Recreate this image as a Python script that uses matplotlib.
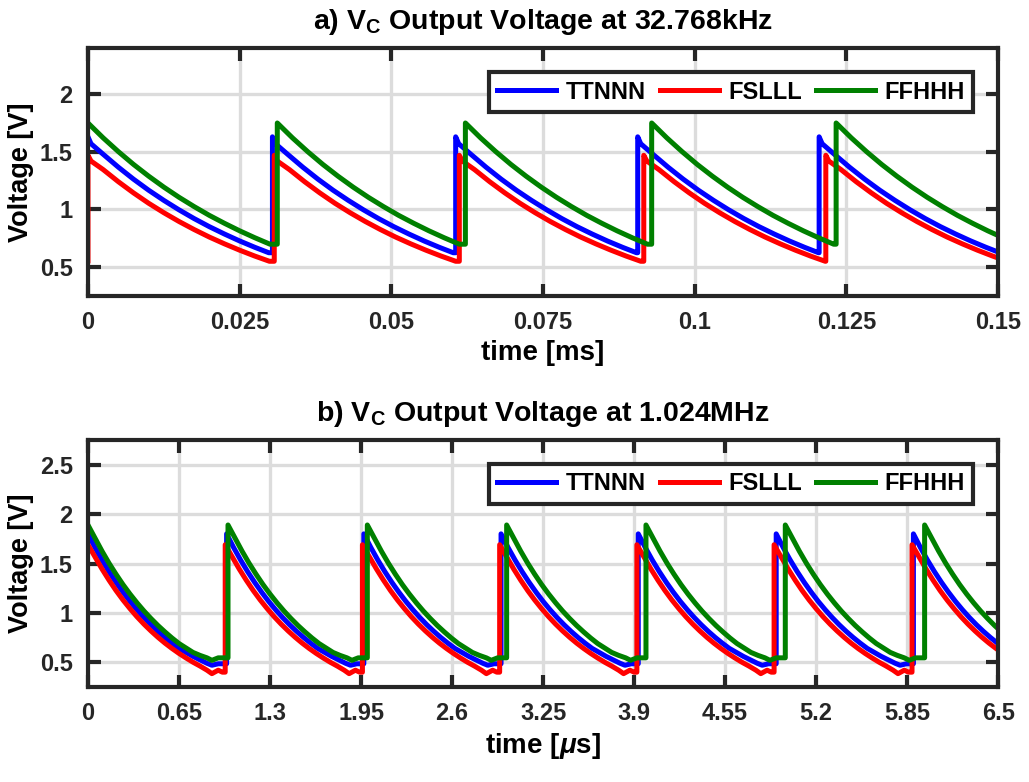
import matplotlib
matplotlib.use('Agg')
import matplotlib.pyplot as plt
import numpy as np

plt.rcParams['font.family'] = ['Liberation Sans', 'DejaVu Sans']
plt.rcParams['font.weight'] = 'bold'
plt.rcParams['mathtext.fontset'] = 'custom'
plt.rcParams['mathtext.rm'] = 'Liberation Sans:bold'
plt.rcParams['mathtext.bf'] = 'Liberation Sans:bold'
plt.rcParams['mathtext.it'] = 'Liberation Sans:italic:bold'

names = ['TTNNN', 'FSLLL', 'FFHHH']
colors = ['#0000ff', '#ff0000', '#008000']

# a) 32.768 kHz, time in ms -- jump times and one decay profile per corner
a_starts = [
    [0, 0.0304, 0.0606, 0.0906, 0.1205],
    [0, 0.0307, 0.0612, 0.0916, 0.1216],
    [0, 0.0312, 0.0622, 0.0929, 0.1233],
]
a_offs = [
    [0, 0.0005, 0.0025, 0.005, 0.0075, 0.010, 0.0125, 0.015, 0.0175, 0.020, 0.0225, 0.025, 0.0275, 0.0298],
    [0, 0.0005, 0.0025, 0.005, 0.0075, 0.010, 0.0125, 0.015, 0.0175, 0.020, 0.0225, 0.025, 0.0275, 0.0299],
    [0, 0.0025, 0.005, 0.0075, 0.010, 0.0125, 0.015, 0.0175, 0.020, 0.0225, 0.025, 0.0275, 0.030],
]
a_vals = [
    [1.63, 1.57, 1.479, 1.367, 1.263, 1.167, 1.079, 0.997, 0.921, 0.851, 0.787, 0.727, 0.672, 0.625],
    [1.47, 1.42, 1.346, 1.241, 1.144, 1.054, 0.972, 0.896, 0.826, 0.761, 0.702, 0.647, 0.596, 0.551],
    [1.75, 1.621, 1.502, 1.391, 1.289, 1.194, 1.106, 1.025, 0.949, 0.880, 0.815, 0.755, 0.699],
]
a_first = [None, 0.555, None]

# b) 1.024 MHz, time in us
b_starts = [
    [0, 0.99, 1.97, 2.95, 3.93, 4.915, 5.895],
    [0, 0.98, 1.96, 2.94, 3.92, 4.90, 5.885],
    [0, 1.0, 1.995, 2.99, 3.985, 4.98, 5.975],
]
b_offs = [0, 0.05, 0.1, 0.15, 0.2, 0.25, 0.3, 0.35, 0.4, 0.45, 0.5, 0.55, 0.6,
          0.65, 0.7, 0.75, 0.8, 0.85, 0.885, 0.93, 0.96]
b_vals = [
    [1.80, 1.662, 1.535, 1.418, 1.310, 1.210, 1.117, 1.032, 0.953, 0.880, 0.813,
     0.751, 0.694, 0.641, 0.60, 0.56, 0.525, 0.49, 0.47, 0.485, 0.485],
    [1.69, 1.567, 1.445, 1.332, 1.227, 1.131, 1.043, 0.961, 0.886, 0.817, 0.753,
     0.694, 0.640, 0.590, 0.544, 0.501, 0.462, 0.42, 0.385, 0.42, 0.40],
    [1.89, 1.758, 1.626, 1.504, 1.392, 1.287, 1.191, 1.102, 1.019, 0.943, 0.872,
     0.807, 0.746, 0.690, 0.645, 0.60, 0.57, 0.545, 0.52, 0.545, 0.545],
]


def build(starts, offs, vals, first=None):
    t, v = [], []
    if first is not None:
        t.append(starts[0]); v.append(first)
    for i, s in enumerate(starts):
        end = starts[i + 1] if i + 1 < len(starts) else np.inf
        for o, val in zip(offs, vals):
            if s + o < end:
                t.append(s + o); v.append(val)
        if i + 1 < len(starts):
            t.append(end); v.append(v[-1])
    return t, v


def style(ax, title, xlabel, xlim, ylim, xticks, yticks, xticklabels):
    ax.set_xlim(xlim)
    ax.set_ylim(ylim)
    ax.set_xticks(xticks)
    ax.set_xticklabels(xticklabels)
    ax.set_yticks(yticks)
    ax.set_yticklabels([('%g' % y) for y in yticks])
    ax.grid(True, color='#dcdcdc', linewidth=2.4)
    ax.set_axisbelow(True)
    for sp in ax.spines.values():
        sp.set_linewidth(3)
        sp.set_color('#262626')
    ax.tick_params(direction='in', length=9, width=3, color='#262626',
                   top=True, right=True, labelsize=17, pad=11, labelcolor='#262626')
    ax.set_title(title, fontsize=20.5, fontweight='bold', pad=14)
    ax.set_xlabel(xlabel, fontsize=20, fontweight='bold', labelpad=4)
    ax.set_ylabel('Voltage [V]', fontsize=19.5, fontweight='bold', labelpad=4)
    leg = ax.legend(loc='upper right', ncol=3, bbox_to_anchor=(0.9725, 0.902),
                    fontsize=17, frameon=True, fancybox=False, handlelength=2.5,
                    columnspacing=0.6, handletextpad=0.4, borderpad=0.35,
                    borderaxespad=0)
    leg.get_frame().set_edgecolor('#262626')
    leg.get_frame().set_linewidth(3)
    leg.get_frame().set_alpha(1)


fig = plt.figure(figsize=(10.29, 7.82), dpi=100)
ax1 = fig.add_axes([0.0855, 0.6215, 0.8845, 0.3171])
ax2 = fig.add_axes([0.0855, 0.1215, 0.8845, 0.3158])

for i in range(3):
    t, v = build(a_starts[i], a_offs[i], a_vals[i], a_first[i])
    ax1.plot(t, v, color=colors[i], linewidth=3.6, label=names[i])
    t, v = build(b_starts[i], b_offs, b_vals[i])
    ax2.plot(t, v, color=colors[i], linewidth=3.6, label=names[i])

style(ax1, r'a) V$_\mathregular{C}$ Output Voltage at 32.768kHz', 'time [ms]',
      (0, 0.15), (0.25, 2.4), [0, 0.025, 0.05, 0.075, 0.1, 0.125, 0.15],
      [0.5, 1, 1.5, 2], ['0', '0.025', '0.05', '0.075', '0.1', '0.125', '0.15'])
b_ticks = [0, 0.65, 1.3, 1.95, 2.6, 3.25, 3.9, 4.55, 5.2, 5.85, 6.5]
style(ax2, r'b) V$_\mathregular{C}$ Output Voltage at 1.024MHz', r'time [$\mu$s]',
      (0, 6.5), (0.25, 2.75), b_ticks,
      [0.5, 1, 1.5, 2, 2.5], [('%g' % x) for x in b_ticks])

fig.savefig('out.png', dpi=100)
